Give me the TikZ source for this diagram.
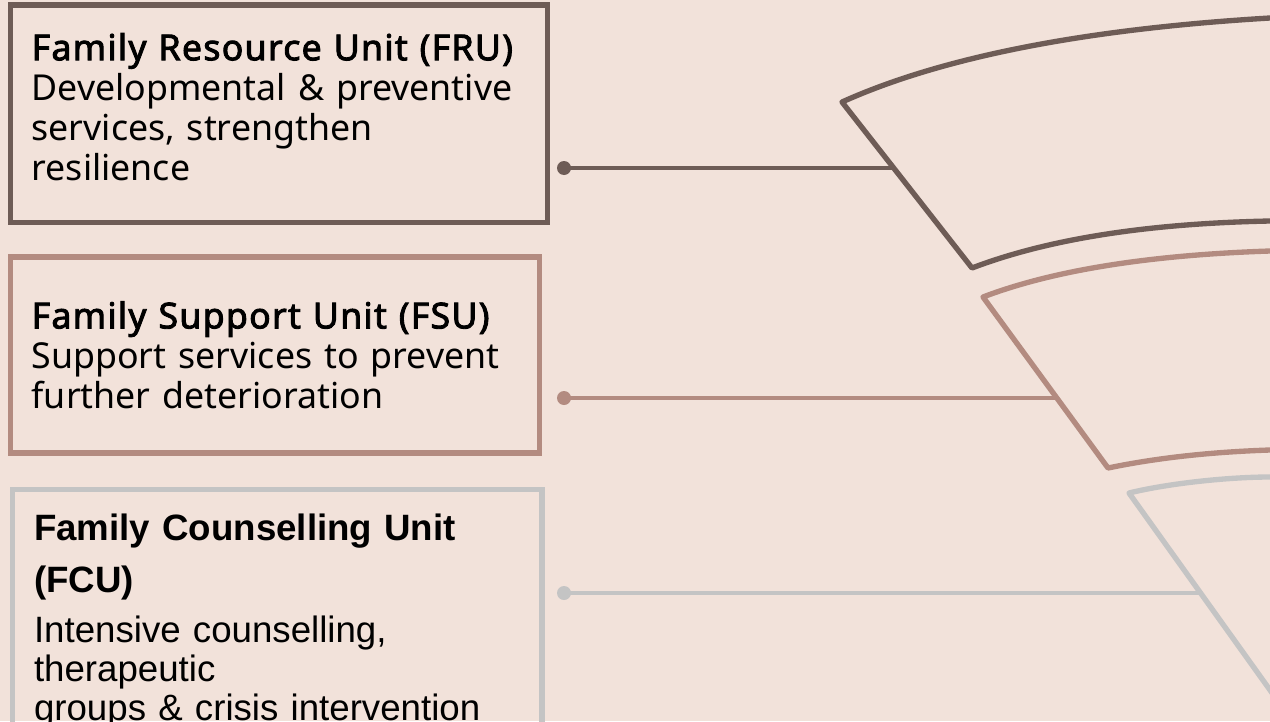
\documentclass[tikz,border=0pt]{standalone}
\usepackage{fontspec}
\setmainfont{Noto Sans}[BoldFont={Noto Sans}, BoldFeatures={FakeBold=2.5, LetterSpace=3.5}]
\newfontfamily\arialfont{Liberation Sans}
\definecolor{fruline}{HTML}{6E5C56}
\definecolor{fsuline}{HTML}{B38B80}
\definecolor{fculine}{HTML}{C4C4C4}
\definecolor{pagebg}{HTML}{F2E2DA}

\begin{document}
\begin{tikzpicture}[x=0.75pt,y=0.75pt,yscale=-1,
    unitbox/.style={draw=#1, line width=4pt, rectangle, align=left, inner xsep=16pt, font=\fontsize{26.8}{30}\selectfont},
    dotnode/.style={circle, fill=#1, inner sep=0pt, minimum size=10.5pt},
    link/.style={draw=#1, line width=3.6pt},
    band/.style={draw=#1, line width=4pt, line join=round}]
    %set diagram size 1270 x 721
    \useasboundingbox (0,0) rectangle (1270,721);
    \fill[pagebg] (0,0) rectangle (1270,721);
    \clip (0,0) rectangle (1270,721);

    %Shape: funnel band FRU
    \coordinate (a1) at (842,102);
    \coordinate (b1) at (972,268);
    \draw[band=fruline] (1270,18) .. controls (1085,29) and (942,57) .. (a1) -- (b1) .. controls (1048,239) and (1147,223.5) .. (1270,221);
    %Shape: funnel band FSU
    \coordinate (a2) at (983,297);
    \coordinate (b2) at (1108,468);
    \draw[band=fsuline] (1270,251) .. controls (1150,255) and (1054,270) .. (a2) -- (b2) .. controls (1156,458) and (1210,452) .. (1270,450);
    %Shape: funnel band FCU
    \coordinate (a3) at (1129,493);
    \coordinate (b3) at (1295,725);
    \draw[band=fculine] (1270,477) .. controls (1230,477) and (1170,483) .. (a3) -- (b3);

    % Text Node
    \node[unitbox=fruline, text width=371pt, minimum height=163pt] (fru) at (279,113.5) {\textbf{Family Resource Unit (FRU)}\\Developmental \& preventive\\services, strengthen\\resilience\par\kern10pt};
    % Text Node
    \node[unitbox=fsuline, text width=365pt, minimum height=147pt] (fsu) at (275,355) {\textbf{Family Support Unit (FSU)}\\Support services to prevent\\further deterioration};
    % Text Node
    \node[unitbox=fculine, text width=365pt, anchor=north west, inner ysep=18pt, font=\arialfont\fontsize{27.5}{29}\selectfont] (fcu) at (10,487) {\textbf{Family Counselling Unit}\\[10pt]\textbf{(FCU)}\\[9pt]Intensive counselling,\\therapeutic\\groups \& crisis intervention};

    %Connectors
    \node[dotnode=fruline] (d1) at (564,168) {};
    \coordinate (j1) at (894,168);
    \draw[link=fruline] (d1.center) -- (j1);
    \node[dotnode=fsuline] (d2) at (564,398) {};
    \coordinate (j2) at (1057,398);
    \draw[link=fsuline] (d2.center) -- (j2);
    \node[dotnode=fculine] (d3) at (564,593) {};
    \coordinate (j3) at (1201,593);
    \draw[link=fculine] (d3.center) -- (j3);
\end{tikzpicture}
\end{document}
